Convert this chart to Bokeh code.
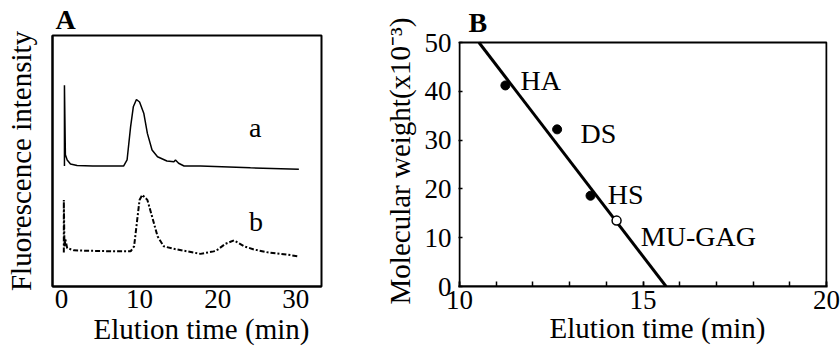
from bokeh.plotting import figure
from bokeh.layouts import row
from bokeh.models import Range1d, FixedTicker, Label
from bokeh.embed import file_html
from bokeh.resources import INLINE

# ---------------- Panel A data (chromatograms) ----------------
trace_a_time = [0.38, 0.38, 0.5, 0.73, 1.15, 2.0, 4.0, 6.0, 7.95, 8.4, 8.85, 9.2, 9.6,
                10.0, 10.55, 11.0, 11.6, 12.3, 13.5, 14.4, 14.6, 15.0, 15.7, 17.8, 24.2, 30.4]
trace_a_int = [48.0, 80.2, 52.5, 50.4, 48.8, 48.2, 48.0, 48.0, 48.0, 50.4, 63.6, 71.6, 74.5,
               73.5, 68.9, 61.0, 54.4, 51.7, 50.0, 49.7, 50.4, 49.1, 48.0, 48.0, 47.3, 46.7]
trace_b_time = [0.3, 0.3, 0.38, 0.5, 0.73, 1.6, 4.0, 7.0, 8.85, 9.3, 9.7, 10.0, 10.35, 11.0,
                11.6, 12.3, 13.1, 14.4, 16.1, 17.8, 19.5, 20.0, 21.0, 22.1, 23.4, 24.7,
                26.4, 28.9, 30.4]
trace_b_int = [13.5, 34.5, 16.0, 18.7, 15.3, 14.4, 14.2, 14.0, 14.0, 16.0, 26.6, 34.5, 36.5, 34.5,
               27.9, 20.0, 16.0, 15.0, 14.0, 13.0, 14.0, 14.7, 17.0, 18.4, 16.0, 14.7,
               13.6, 12.7, 12.0]
a_xticks = [0, 10, 20, 30]

# ---------------- Panel B data (calibration) ----------------
std_names = ["HA", "DS", "HS"]
std_time = [11.25, 12.66, 13.57]
std_mw = [41.2, 32.2, 18.6]
sample_name = "MU-GAG"
sample_time = [14.28]
sample_mw = [13.5]
fit_time = [10.53, 15.63]
fit_mw = [50.0, 0.0]
b_xticks = [10, 15, 20]
b_xminor = list(range(10, 21))
b_yticks = [0, 10, 20, 30, 40, 50]

FONT = "Liberation Serif"
NBSP2 = "\u2002\u2002"


def style(p):
    p.background_fill_color = "white"
    p.border_fill_color = "white"
    p.xgrid.visible = False
    p.ygrid.visible = False
    p.title.text_font = FONT
    p.title.text_font_size = "28px"
    p.title.text_font_style = "bold"
    p.title.text_color = "black"
    p.title.align = "left"
    for ax in (p.xaxis[0], p.yaxis[0]):
        ax.axis_line_color = "black"
        ax.axis_line_width = 2
        ax.major_tick_line_color = "black"
        ax.minor_tick_line_color = "black"
        ax.major_tick_line_width = 1.5
        ax.minor_tick_line_width = 1.5
        ax.major_tick_out = 0
        ax.minor_tick_out = 0
        ax.major_label_text_font = FONT
        ax.major_label_text_font_size = "27px"
        ax.major_label_text_color = "black"
        ax.axis_label_text_font = FONT
        ax.axis_label_text_font_size = "29px"
        ax.axis_label_text_font_style = "normal"
        ax.axis_label_text_color = "black"


# ---------------- Panel A ----------------
pA = figure(width=340, height=353, output_backend="svg", toolbar_location=None,
            title="A",
            x_range=Range1d(-1.15, 33.3), y_range=Range1d(0, 100),
            min_border_left=52, min_border_right=19, min_border_top=35, min_border_bottom=67)
style(pA)
pA.outline_line_color = "black"
pA.outline_line_width = 2
pA.title.offset = 3
pA.title.standoff = 2
pA.line(trace_a_time, trace_a_int, line_color="black", line_width=1.5)
pA.line(trace_b_time, trace_b_int, line_color="black", line_width=2, line_dash="5 2 2 2")
pA.xaxis.ticker = FixedTicker(ticks=a_xticks, minor_ticks=[])
pA.xaxis.major_tick_in = 0
pA.xaxis.major_label_standoff = 3
pA.xaxis.axis_label = NBSP2 + "Elution time (min)"
pA.xaxis.axis_label_standoff = 2
pA.yaxis.ticker = FixedTicker(ticks=[], minor_ticks=[])
pA.yaxis.major_tick_in = 0
pA.yaxis.axis_label = "Fluorescence intensity"
pA.yaxis.axis_label_standoff = 16
pA.add_layout(Label(x=24.0, y=63.5, text="a", text_font=FONT, text_font_size="28px",
                    text_color="black", text_baseline="alphabetic"))
pA.add_layout(Label(x=24.0, y=25.8, text="b", text_font=FONT, text_font_size="28px",
                    text_color="black", text_baseline="alphabetic"))

# ---------------- Panel B ----------------
# frame top is shared with panel A; the plotted box (0..50) sits 7 px lower
px_per_unit = 244 / 50.0
y_top = b_yticks[-1] + 7 / px_per_unit
x_pad = 1.0 / 36.7
pB = figure(width=500, height=353, output_backend="svg", toolbar_location=None,
            title="B",
            x_range=Range1d(b_xticks[0] - x_pad, b_xticks[-1] + x_pad),
            y_range=Range1d(0, y_top),
            min_border_left=118, min_border_right=13, min_border_top=35, min_border_bottom=67)
style(pB)
pB.outline_line_color = None
pB.title.offset = 10
pB.title.standoff = -4
pB.quad(left=b_xticks[0], right=b_xticks[-1], bottom=b_yticks[0], top=b_yticks[-1],
        fill_color=None, line_color="black", line_width=2)
pB.line(fit_time, fit_mw, line_color="black", line_width=3)
pB.scatter(std_time, std_mw, size=9, marker="circle", fill_color="black", line_color="black")
pB.scatter(sample_time, sample_mw, size=9, marker="circle", fill_color="white",
           line_color="black", line_width=1.5)
pB.xaxis.ticker = FixedTicker(ticks=b_xticks, minor_ticks=b_xminor)
pB.xaxis.major_tick_in = 5
pB.xaxis.minor_tick_in = 5
pB.xaxis.major_label_standoff = 4
pB.xaxis.axis_label = NBSP2 + "Elution time (min)"
pB.xaxis.axis_label_standoff = 0
pB.yaxis.axis_line_color = None
pB.yaxis.ticker = FixedTicker(ticks=b_yticks, minor_ticks=[])
pB.yaxis.major_tick_in = 4
pB.yaxis.minor_tick_in = 0
pB.yaxis.major_label_standoff = 7
pB.yaxis.axis_label = "Molecular weight(x10\u207b\u00b3)"
pB.yaxis.axis_label_standoff = 6

label_pos = [(11.66, 42.2), (13.3, 31.4), (14.04, 18.9)]
for name, (lx, ly) in zip(std_names, label_pos):
    pB.add_layout(Label(x=lx, y=ly, text=name, text_font=FONT, text_font_size="28px",
                        text_color="black", text_baseline="alphabetic"))
pB.add_layout(Label(x=14.94, y=10.2, text=sample_name, text_font=FONT, text_font_size="28px",
                    text_color="black", text_baseline="alphabetic"))

layout = row(pA, pB)
open("out.html", "w").write(file_html(layout, INLINE))
